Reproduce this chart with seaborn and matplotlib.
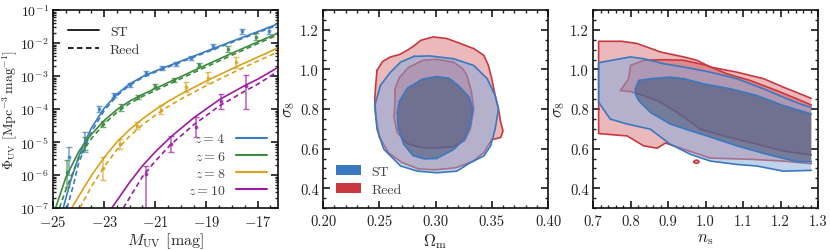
import numpy as np
import matplotlib
matplotlib.use("Agg")
import matplotlib.pyplot as plt
import seaborn as sns
from matplotlib.ticker import MultipleLocator, FixedLocator, LogLocator, NullFormatter, FormatStrFormatter
from matplotlib.lines import Line2D
from matplotlib.patches import Patch

# ---------------- data: UV luminosity functions (log10 phi) ----------------
z_labels = ["$z = 4$", "$z = 6$", "$z = 8$", "$z = 10$"]
z_colors = ["#3a7cc4", "#3c8a3e", "#d9a21c", "#9c1aa0"]
mag_ticks = [-25, -23, -21, -19, -17]

# ST model curves
st_M = [
    [-24.6, -24.3, -24.0, -23.75, -23.5, -23.0, -22.5, -22.0, -21.5, -21.0, -20.0, -19.0, -18.0, -17.0, -16.2],
    [-24.9, -24.5, -24.0, -23.75, -23.5, -23.0, -22.5, -22.0, -21.5, -21.0, -20.0, -19.0, -18.0, -17.0, -16.2],
    [-24.27, -24.0, -23.5, -23.0, -22.5, -22.0, -21.5, -21.0, -20.5, -20.0, -19.0, -18.0, -17.0, -16.2],
    [-22.7, -22.0, -21.5, -21.0, -20.4, -19.5, -18.5, -17.5, -17.0, -16.2],
]
st_logphi = [
    [-7.0, -6.15, -5.45, -5.0, -4.58, -3.98, -3.55, -3.24, -3.02, -2.85, -2.55, -2.25, -1.95, -1.66, -1.42],
    [-7.0, -6.08, -5.3, -5.02, -4.77, -4.35, -4.02, -3.76, -3.56, -3.38, -3.02, -2.66, -2.31, -1.97, -1.70],
    [-7.0, -6.65, -6.02, -5.47, -5.0, -4.62, -4.3, -4.02, -3.77, -3.55, -3.15, -2.78, -2.43, -2.15],
    [-7.0, -6.22, -5.72, -5.3, -4.85, -4.27, -3.72, -3.29, -3.1, -2.74],
]
# Reed model curves
reed_M = [
    [-24.45, -24.2, -24.0, -23.75, -23.5, -23.0, -22.5, -22.0, -21.5, -21.0, -20.0, -19.0, -18.0, -17.0, -16.2],
    [-24.75, -24.5, -24.0, -23.75, -23.5, -23.0, -22.5, -22.0, -21.5, -21.0, -20.0, -19.0, -18.0, -17.0, -16.2],
    [-23.95, -23.5, -23.0, -22.5, -22.0, -21.5, -21.0, -20.5, -20.0, -19.0, -18.0, -17.0, -16.2],
    [-22.25, -21.5, -21.0, -20.4, -19.5, -18.5, -17.5, -17.0, -16.2],
]
reed_logphi = [
    [-7.0, -6.3, -5.65, -5.15, -4.7, -4.05, -3.6, -3.28, -3.05, -2.88, -2.58, -2.28, -1.98, -1.69, -1.45],
    [-7.0, -6.45, -5.5, -5.18, -4.9, -4.45, -4.1, -3.83, -3.62, -3.44, -3.08, -2.72, -2.37, -2.02, -1.75],
    [-7.0, -6.35, -5.75, -5.23, -4.82, -4.48, -4.19, -3.93, -3.7, -3.29, -2.91, -2.55, -2.27],
    [-7.0, -6.05, -5.58, -5.08, -4.48, -3.91, -3.46, -3.25, -2.86],
]
# observed points (log10 phi, lower/upper error in dex)
obs_M = [
    [-24.38, -23.75, -23.19, -22.6, -22.0, -21.36, -20.75, -20.19, -19.6, -18.75, -17.62, -16.54],
    [-24.47, -23.75, -23.03, -22.35, -21.66, -21.0, -20.27, -19.28, -18.14, -17.06],
    [-23.03, -22.38, -21.73, -20.78, -19.8, -18.93, -17.84],
    [-21.36, -20.4, -19.4, -18.44, -17.45],
]
obs_logphi = [
    [-5.45, -5.01, -4.0, -3.57, -3.27, -2.92, -2.76, -2.64, -2.46, -2.10, -1.65, -1.63],
    [-5.9, -5.05, -4.45, -3.95, -3.65, -3.31, -3.11, -2.67, -2.18, -1.81],
    [-5.8, -5.05, -4.5, -4.02, -3.34, -3.07, -2.58],
    [-5.98, -5.05, -4.54, -3.75, -3.31],
]
obs_err_lo = [
    [0.55, 0.3, 0.1, 0.07, 0.06, 0.06, 0.05, 0.06, 0.07, 0.07, 0.07, 0.1],
    [0.45, 0.2, 0.1, 0.1, 0.06, 0.06, 0.06, 0.07, 0.08, 0.1],
    [0.35, 0.15, 0.11, 0.13, 0.15, 0.15, 0.17],
    [2.0, 0.26, 0.31, 0.25, 0.69],
]
obs_err_hi = [
    [0.3, 0.3, 0.1, 0.07, 0.06, 0.06, 0.05, 0.06, 0.07, 0.07, 0.07, 0.1],
    [0.35, 0.2, 0.1, 0.1, 0.06, 0.06, 0.06, 0.07, 0.08, 0.1],
    [0.35, 0.15, 0.11, 0.13, 0.15, 0.2, 0.17],
    [0.26, 0.22, 0.3, 0.2, 0.34],
]

# ---------------- data: posterior contours (outline vertices) ----------------
# (Omega_m, sigma_8)
om_red_outer_x = [0.248, 0.253, 0.260, 0.268, 0.275, 0.281, 0.287, 0.298, 0.310, 0.322, 0.334, 0.343, 0.347, 0.350, 0.353, 0.356, 0.358, 0.360, 0.358, 0.350, 0.343, 0.333, 0.318, 0.300, 0.285, 0.270, 0.258, 0.250, 0.247, 0.246, 0.247, 0.248]
om_red_outer_y = [0.995, 1.04, 1.063, 1.075, 1.097, 1.12, 1.147, 1.164, 1.156, 1.131, 1.105, 1.071, 1.02, 0.953, 0.87, 0.80, 0.732, 0.69, 0.656, 0.645, 0.58, 0.535, 0.503, 0.493, 0.497, 0.53, 0.58, 0.66, 0.76, 0.85, 0.93, 0.995]
om_red_inner_x = [0.264, 0.268, 0.276, 0.289, 0.301, 0.316, 0.324, 0.328, 0.332, 0.334, 0.331, 0.326, 0.316, 0.301, 0.287, 0.275, 0.266, 0.263, 0.264, 0.264]
om_red_inner_y = [0.902, 0.96, 1.01, 1.046, 1.051, 1.037, 1.005, 0.969, 0.885, 0.80, 0.70, 0.64, 0.61, 0.603, 0.605, 0.625, 0.68, 0.76, 0.83, 0.902]
om_blue_outer_x = [0.281, 0.295, 0.316, 0.334, 0.346, 0.353, 0.356, 0.353, 0.349, 0.343, 0.331, 0.319, 0.301, 0.284, 0.269, 0.254, 0.248, 0.246, 0.251, 0.260, 0.269, 0.281]
om_blue_outer_y = [1.066, 1.068, 1.054, 1.02, 0.953, 0.868, 0.80, 0.698, 0.614, 0.563, 0.529, 0.486, 0.478, 0.486, 0.512, 0.597, 0.698, 0.817, 0.919, 0.986, 1.037, 1.066]
om_blue_inner_x = [0.268, 0.275, 0.288, 0.301, 0.312, 0.320, 0.330, 0.333, 0.331, 0.326, 0.316, 0.301, 0.290, 0.280, 0.272, 0.267, 0.266, 0.268]
om_blue_inner_y = [0.84, 0.905, 0.950, 0.964, 0.955, 0.92, 0.86, 0.80, 0.72, 0.65, 0.595, 0.550, 0.548, 0.565, 0.62, 0.70, 0.78, 0.84]

# (n_s, sigma_8)
ns_red_outer_x = [1.282, 1.253, 1.208, 1.155, 1.084, 1.013, 0.977, 0.942, 0.880, 0.817, 0.777, 0.715, 0.715, 0.791, 0.835, 0.871, 0.893, 0.930, 0.960, 1.013, 1.119, 1.208, 1.282]
ns_red_outer_y = [0.854, 0.876, 0.910, 0.953, 0.986, 1.012, 1.046, 1.063, 1.088, 1.131, 1.142, 1.142, 0.676, 0.664, 0.614, 0.602, 0.628, 0.605, 0.585, 0.552, 0.546, 0.537, 0.524]
ns_red_island_x = [0.969, 0.972, 0.976, 0.981, 0.983, 0.980, 0.975, 0.970, 0.969]
ns_red_island_y = [0.534, 0.540, 0.542, 0.539, 0.533, 0.527, 0.526, 0.529, 0.534]
ns_red_inner_x = [1.282, 1.244, 1.190, 1.119, 1.057, 1.004, 0.942, 0.888, 0.835, 0.800, 0.795, 0.773, 0.800, 0.835, 0.880, 0.924, 0.968, 0.986, 1.048, 1.119, 1.208, 1.282]
ns_red_inner_y = [0.820, 0.851, 0.893, 0.944, 0.978, 1.020, 1.046, 1.049, 1.046, 1.020, 0.953, 0.893, 0.888, 0.868, 0.834, 0.783, 0.724, 0.698, 0.664, 0.631, 0.588, 0.568]
ns_blue_outer_x = [1.282, 1.253, 1.208, 1.155, 1.084, 1.013, 0.942, 0.888, 0.835, 0.800, 0.715, 0.715, 0.746, 0.791, 0.853, 0.906, 0.960, 1.013, 1.084, 1.137, 1.208, 1.282]
ns_blue_outer_y = [0.808, 0.825, 0.859, 0.902, 0.953, 0.986, 1.012, 1.029, 1.054, 1.063, 1.034, 0.834, 0.749, 0.724, 0.698, 0.622, 0.571, 0.537, 0.520, 0.512, 0.486, 0.490]
ns_blue_inner_x = [1.282, 1.208, 1.137, 1.066, 0.995, 0.942, 0.906, 0.853, 0.822, 0.813, 0.813, 0.822, 0.853, 0.906, 0.960, 1.004, 1.084, 1.164, 1.244, 1.282]
ns_blue_inner_y = [0.775, 0.817, 0.868, 0.902, 0.927, 0.953, 0.961, 0.953, 0.944, 0.902, 0.876, 0.842, 0.783, 0.724, 0.690, 0.664, 0.614, 0.571, 0.534, 0.534]

st_color = "#3a78c0"
reed_color = "#c8393f"
st_fill_outer, st_fill_inner = "#80a9da", "#34496e"
reed_fill_outer, reed_fill_inner = "#c8393f", "#c8393f"

# ---------------- style ----------------
sns.set_theme(style="ticks")
plt.rcParams.update({
    "font.family": "serif",
    "font.serif": ["cmr10", "DejaVu Serif"],
    "mathtext.fontset": "cm",
    "axes.formatter.use_mathtext": True,
    "axes.unicode_minus": True,
    "font.size": 10,
    "axes.linewidth": 1.2,
    "axes.edgecolor": "#111111",
    "xtick.direction": "in",
    "ytick.direction": "in",
    "xtick.top": True,
    "ytick.right": True,
    "xtick.major.size": 5,
    "ytick.major.size": 5,
    "xtick.minor.size": 2.5,
    "ytick.minor.size": 2.5,
    "xtick.major.pad": 4.5,
    "ytick.major.pad": 3,
    "xtick.color": "#222222",
    "ytick.color": "#222222",
    "xtick.labelsize": 10.5,
    "ytick.labelsize": 10.5,
})

fig = plt.figure(figsize=(8.3, 2.51), dpi=100)
W, H = 830.0, 251.0
def add_ax(left, right, top=11, bottom=209):
    return fig.add_axes([left / W, (H - bottom) / H, (right - left) / W, (bottom - top) / H])

ax1 = add_ax(53, 278)
ax2 = add_ax(323, 548)
ax3 = add_ax(593, 818)

def line(ax, xs, ys, color, lw=1.2, **kw):
    sns.lineplot(x=xs, y=ys, ax=ax, color=color, lw=lw, sort=False, estimator=None, **kw)

# ---------------- panel 1 ----------------
for i in range(4):
    c = z_colors[i]
    line(ax1, st_M[i], np.power(10.0, st_logphi[i]), c)
    line(ax1, reed_M[i], np.power(10.0, reed_logphi[i]), c, linestyle=(0, (3, 2)))
    y = np.power(10.0, obs_logphi[i])
    lo = y - np.power(10.0, np.array(obs_logphi[i]) - np.array(obs_err_lo[i]))
    hi = np.power(10.0, np.array(obs_logphi[i]) + np.array(obs_err_hi[i])) - y
    ax1.errorbar(obs_M[i], y, yerr=[lo, hi], fmt="o", ms=1.8, color=c, alpha=0.7,
                 elinewidth=1.1, capsize=2.2, capthick=1.0)

ax1.set_yscale("log")
ax1.set_xlim(-25, -16.2)
ax1.set_ylim(1e-7, 1e-1)
ax1.xaxis.set_major_locator(FixedLocator(mag_ticks))
ax1.xaxis.set_minor_locator(MultipleLocator(0.5))
ax1.yaxis.set_major_locator(LogLocator(base=10, numticks=10))
ax1.yaxis.set_minor_locator(LogLocator(base=10, subs=np.arange(2, 10), numticks=20))
ax1.yaxis.set_minor_formatter(NullFormatter())
ax1.tick_params(axis="y", which="major", labelsize=10)
ax1.set_xlabel(r"$M_{\rm UV}$ [mag]", fontsize=11.5, labelpad=1)
ax1.set_ylabel(r"$\Phi_{\rm UV}\ [{\rm Mpc}^{-3}\,{\rm mag}^{-1}]$", fontsize=10)
ax1.yaxis.set_label_coords(-0.148, 0.5)

model_handles = [Line2D([], [], color="#111111", lw=1.3),
                 Line2D([], [], color="#111111", lw=1.3, linestyle=(0, (3, 2)))]
leg1 = ax1.legend(model_handles, ["ST", "Reed"], loc="upper left", frameon=False,
                  fontsize=10, handlelength=2.2, labelspacing=0.35, borderaxespad=0.7)
for t in leg1.get_texts():
    t.set_color("#333333")
ax1.add_artist(leg1)
z_handles = [Line2D([], [], color=c, lw=1.5) for c in z_colors]
leg2 = ax1.legend(z_handles, z_labels, loc="lower right", frameon=False, fontsize=10,
                  markerfirst=False, handlelength=2.2, labelspacing=0.3, borderaxespad=0.4)
for t in leg2.get_texts():
    t.set_color("#444444")

# ---------------- contour panels ----------------
def draw_contour(ax, xs, ys, fill, alpha, edge):
    ax.fill(xs, ys, facecolor=fill, alpha=alpha, edgecolor="none", zorder=2)
    line(ax, xs, ys, edge, lw=1.2, zorder=2)

for ax, sets in [
    (ax2, [(om_red_outer_x, om_red_outer_y, reed_fill_outer, 0.35, reed_color),
           (om_red_inner_x, om_red_inner_y, reed_fill_inner, 0.38, reed_color),
           (om_blue_outer_x, om_blue_outer_y, st_fill_outer, 0.5, st_color),
           (om_blue_inner_x, om_blue_inner_y, st_fill_inner, 0.5, st_color)]),
    (ax3, [(ns_red_outer_x, ns_red_outer_y, reed_fill_outer, 0.35, reed_color),
           (ns_red_island_x, ns_red_island_y, reed_fill_outer, 0.35, reed_color),
           (ns_red_inner_x, ns_red_inner_y, reed_fill_inner, 0.38, reed_color),
           (ns_blue_outer_x, ns_blue_outer_y, st_fill_outer, 0.5, st_color),
           (ns_blue_inner_x, ns_blue_inner_y, st_fill_inner, 0.5, st_color)]),
]:
    for xs, ys, fill, a, edge in sets:
        draw_contour(ax, xs, ys, fill, a, edge)

for ax, xlim, xmaj, xmin, xlabel, fmt in [
        (ax2, (0.2, 0.4), 0.05, 0.01, r"$\Omega_{\rm m}$", "%.2f"),
        (ax3, (0.7, 1.3), 0.1, 0.02, r"$n_{\rm s}$", "%.1f")]:
    ax.set_xlim(*xlim)
    ax.set_ylim(0.3, 1.3)
    ax.xaxis.set_major_locator(MultipleLocator(xmaj))
    ax.xaxis.set_minor_locator(MultipleLocator(xmin))
    ax.yaxis.set_major_locator(MultipleLocator(0.2))
    ax.yaxis.set_minor_locator(MultipleLocator(0.05))
    ax.xaxis.set_major_formatter(FormatStrFormatter(fmt))
    ax.yaxis.set_major_formatter(FormatStrFormatter("%.1f"))
    ax.set_xlabel(xlabel, fontsize=12, labelpad=2)
    ax.set_ylabel(r"$\sigma_8$", fontsize=12, labelpad=2)

leg3 = ax2.legend([Patch(facecolor=st_color, edgecolor="none"), Patch(facecolor=reed_color, edgecolor="none")],
                  ["ST", "Reed"], loc="lower left", frameon=False, fontsize=10,
                  handlelength=1.8, handleheight=0.75, labelspacing=0.35, borderaxespad=0.5)
for t in leg3.get_texts():
    t.set_color("#444444")

fig.savefig("out.png", dpi=100)
